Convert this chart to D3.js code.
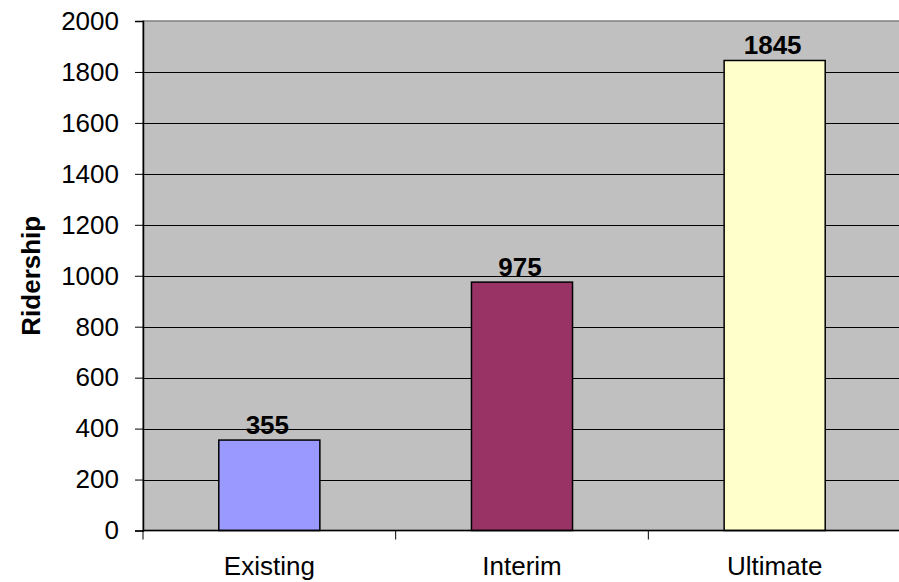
<!DOCTYPE html>
<html>
<head>
<meta charset="utf-8">
<script src="https://cdn.jsdelivr.net/npm/d3@7"></script>
<style>
  body { margin: 0; background: #fff; }
  svg { display: block; font-family: "Liberation Sans", Arial, sans-serif; }
</style>
</head>
<body>
<svg id="chart" width="899" height="582"></svg>
<script>
// Chart data
const categories = ["Existing", "Interim", "Ultimate"]
const ridership = [355, 975, 1845]
const barColors = ["#9999ff", "#993366", "#ffffcc"]
const yTicks = [0, 200, 400, 600, 800, 1000, 1200, 1400, 1600, 1800, 2000]

const svg = d3.select("#chart")
const plot = { left: 143, right: 901, top: 21, bottom: 530.5 }

const x = d3.scaleBand()
  .domain(categories)
  .range([plot.left, plot.right])
  .paddingInner(0.6)
  .paddingOuter(0.3)

const y = d3.scaleLinear()
  .domain([0, 2000])
  .range([plot.bottom, plot.top])

// Plot background
svg.append("rect")
  .attr("x", plot.left)
  .attr("y", plot.top)
  .attr("width", plot.right - plot.left)
  .attr("height", plot.bottom - plot.top)
  .attr("fill", "#c0c0c0")
  .attr("stroke", "#808080")
  .attr("stroke-width", 1.5)

// Gridlines
svg.append("g")
  .selectAll("line")
  .data(yTicks.filter(d => d > 0 && d < 2000))
  .enter()
  .append("line")
  .attr("x1", plot.left)
  .attr("x2", plot.right)
  .attr("y1", d => Math.round(y(d)) + 0.5)
  .attr("y2", d => Math.round(y(d)) + 0.5)
  .attr("stroke", "#000")
  .attr("stroke-width", 1)

// Bars
svg.append("g")
  .selectAll("rect")
  .data(ridership)
  .enter()
  .append("rect")
  .attr("x", (d, i) => x(categories[i]))
  .attr("y", d => y(d))
  .attr("width", x.bandwidth())
  .attr("height", d => y(0) - y(d))
  .attr("fill", (d, i) => barColors[i])
  .attr("stroke", "#000")
  .attr("stroke-width", 1.5)

// Value labels
svg.append("g")
  .selectAll("text")
  .data(ridership)
  .enter()
  .append("text")
  .attr("x", (d, i) => x(categories[i]) + x.bandwidth() / 2 - 2)
  .attr("y", d => y(d) - 6)
  .attr("text-anchor", "middle")
  .attr("font-size", 26)
  .attr("font-weight", "bold")
  .attr("fill", "#000")
  .text(d => d)

// Y axis
const yAxis = svg.append("g")
  .attr("transform", `translate(${plot.left},0)`)
  .call(d3.axisLeft(y).tickValues(yTicks).tickFormat(d3.format("d")).tickSize(8).tickPadding(16))
yAxis.select(".domain").attr("stroke", "#000").attr("stroke-width", 1.5)
yAxis.selectAll(".tick line").attr("stroke", "#000")
yAxis.selectAll("text")
  .attr("font-size", 26)
  .attr("font-family", "Liberation Sans, Arial, sans-serif")
  .attr("fill", "#000")

// X axis: ticks at the category boundaries
const step = x.step()
const boundaries = d3.range(categories.length + 1).map(i => plot.left + i * step)
const xAxis = svg.append("g")
xAxis.append("line")
  .attr("x1", plot.left).attr("x2", plot.right)
  .attr("y1", plot.bottom).attr("y2", plot.bottom)
  .attr("stroke", "#000").attr("stroke-width", 1.5)
xAxis.selectAll("line.tick")
  .data(boundaries)
  .enter()
  .append("line")
  .attr("class", "tick")
  .attr("x1", d => d).attr("x2", d => d)
  .attr("y1", plot.bottom).attr("y2", plot.bottom + 9)
  .attr("stroke", "#000")
xAxis.selectAll("text")
  .data(categories)
  .enter()
  .append("text")
  .attr("x", d => x(d) + x.bandwidth() / 2)
  .attr("y", 575)
  .attr("text-anchor", "middle")
  .attr("font-size", 26)
  .attr("fill", "#000")
  .text(d => d)

// Y axis title
svg.append("text")
  .attr("transform", `translate(40,${(plot.top + plot.bottom) / 2}) rotate(-90)`)
  .attr("text-anchor", "middle")
  .attr("font-size", 26)
  .attr("font-weight", "bold")
  .attr("fill", "#000")
  .text("Ridership")
</script>
</body>
</html>
